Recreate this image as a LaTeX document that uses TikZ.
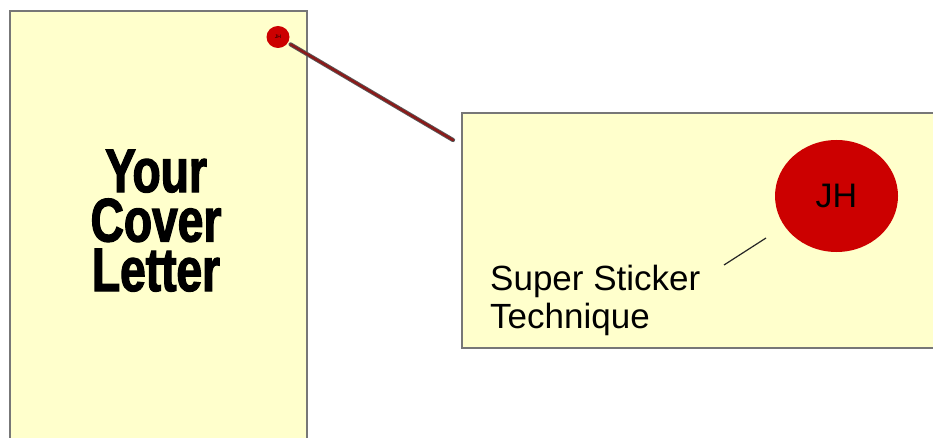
\documentclass[tikz,border=0pt]{standalone}
\usepackage{fontspec}
\usetikzlibrary{shapes.geometric}
\setmainfont{Liberation Sans}
\newfontfamily\heavyfont[FakeStretch=0.75,FakeBold=2]{Liberation Sans}
\definecolor{paper}{HTML}{FFFFCC}
\definecolor{edge}{HTML}{777777}
\definecolor{sticker}{HTML}{CC0000}
\definecolor{cord}{HTML}{8B1A1A}
\begin{document}
\begin{tikzpicture}[x=1pt,y=-1pt,
  sheet/.style={draw=edge,fill=paper,line width=1.5pt},
  dot/.style={ellipse,fill=sticker,inner sep=0pt},
  label/.style={font=\fontsize{35}{38}\selectfont,align=left,inner sep=0pt}]
\useasboundingbox (0,0) rectangle (933,438);
\begin{scope}
\clip (0,0) rectangle (933,438);
% cover letter sheet and zoomed detail panel
\draw[sheet] (10,11) rectangle (307,460);
\draw[sheet] (462,113) rectangle (960,348);
% the base anchor of a multi-line node sits on its last line
\node[font=\heavyfont\bfseries\fontsize{61.5}{49.5}\selectfont,align=center,inner sep=0pt,anchor=base]
  (title) at (156,291) {Your\\Cover\\Letter};
% small sticker on the sheet
\node[dot,minimum width=23pt,minimum height=22pt] (small) at (278,37)
  {\fontsize{5}{5}\selectfont JH};
\coordinate (zoomend) at (453,140);
\draw[line width=4.2pt,color=black!65,line cap=round,shorten <=3pt] (small) -- (zoomend);
\draw[line width=2.4pt,color=cord,line cap=round,shorten <=3pt] (small) -- (zoomend);
% enlarged sticker
\node[dot,minimum width=123pt,minimum height=112pt] (big) at (836.5,196)
  {\fontsize{34}{34}\selectfont JH};
\node[label,anchor=base west] (tech) at (490,328) {Super Sticker\\Technique};
\coordinate (ptrA) at (766,238);
\coordinate (ptrB) at (724,265);
\draw[line width=1.2pt,black!85] (ptrA) -- (ptrB);
\end{scope}
\end{tikzpicture}
\end{document}
